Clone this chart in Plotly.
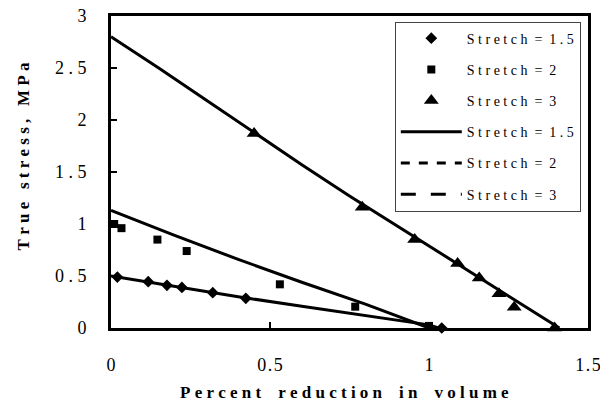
import plotly.graph_objects as go

# ---------------- data ----------------
# measured points (Percent reduction in volume, True stress MPa)
s15_x = [0.02, 0.117, 0.176, 0.223, 0.32, 0.424, 1.04]
s15_y = [0.49, 0.445, 0.41, 0.39, 0.34, 0.285, 0.0]

s2_x = [0.01, 0.033, 0.146, 0.238, 0.531, 0.768, 1.0]
s2_y = [1.0, 0.96, 0.85, 0.74, 0.42, 0.205, 0.02]

s3_x = [0.45, 0.79, 0.955, 1.09, 1.158, 1.22, 1.268, 1.395]
s3_y = [1.87, 1.16, 0.85, 0.62, 0.48, 0.33, 0.20, 0.0]

# model curves
c15_x = [0, 0.2, 0.4, 0.6, 0.8, 1.0, 1.03]
c15_y = [0.50, 0.40, 0.30, 0.21, 0.12, 0.03, 0.0]

c2_x = [0, 0.2, 0.4, 0.6, 0.8, 1.0]
c2_y = [1.13, 0.89, 0.66, 0.44, 0.23, 0.0]

c3_x = [0, 0.15, 0.3, 0.45, 0.6, 0.75, 0.9, 1.05, 1.2, 1.32, 1.41]
c3_y = [2.80, 2.50, 2.19, 1.88, 1.57, 1.27, 0.98, 0.69, 0.40, 0.17, 0.0]

x_ticks = [0, 0.5, 1, 1.5]
x_ticktext = ["0", "0.5", "1", "1.5"]
y_ticks = [0, 0.5, 1, 1.5, 2, 2.5, 3]
y_ticktext = ["0", "0.5", "1", "1.5", "2", "2.5", "3"]

legend_names = ["Stretch = 1.5", "Stretch = 2", "Stretch = 3"]
x_title = "Percent reduction in volume"
y_title = "True stress, MPa"

# ---------------- helpers ----------------
NB = "\u00a0"
HAIR = "\u200a"


def spaced(s, lg=1, wg=3):
    words = s.split(" ")
    return (NB * wg).join((NB * lg).join(list(w)) for w in words)


SERIF = "Liberation Serif, Times New Roman, serif"

fig = go.Figure()

# model curves (drawn solid as in the figure)
for cx, cy in [(c15_x, c15_y), (c2_x, c2_y), (c3_x, c3_y)]:
    fig.add_trace(go.Scatter(x=cx, y=cy, mode="lines", showlegend=False,
                             line=dict(color="black", width=3), hoverinfo="skip"))

# measured points
markers = [("diamond", 9), ("square", 8), ("triangle-up", 13)]
for i, (px, py) in enumerate([(s15_x, s15_y), (s2_x, s2_y), (s3_x, s3_y)]):
    sym, sz = markers[i]
    fig.add_trace(go.Scatter(x=px, y=py, mode="markers",
                             name=spaced(legend_names[i], 1, 2),
                             legendgroup=f"m{i}", cliponaxis=False,
                             marker=dict(symbol=sym, size=sz, color="black")))

# legend entries for model curves
dashes = ["solid", "dash", "longdash"]
for i in range(3):
    fig.add_trace(go.Scatter(x=[None], y=[None], mode="lines",
                             name=spaced(legend_names[i], 1, 2),
                             legendgroup=f"l{i}",
                             line=dict(color="black", width=3, dash=dashes[i])))

tick_font = dict(family=SERIF, size=18, color="black")

fig.update_layout(
    width=600, height=405,
    margin=dict(l=111, r=12, t=16, b=77, autoexpand=False),
    paper_bgcolor="white", plot_bgcolor="white",
    font=dict(family=SERIF, size=17, color="black"),
    showlegend=True,
    legend=dict(x=0.595, y=0.982, xanchor="left", yanchor="top",
                bgcolor="white", bordercolor="#444", borderwidth=1,
                font=dict(family=SERIF, size=14, color="black"),
                traceorder="grouped", tracegroupgap=10, itemwidth=61),
    xaxis=dict(range=[0, 1.5], tickvals=x_ticks,
               ticktext=[HAIR.join(list(t)) for t in x_ticktext], tickfont=tick_font,
               showline=True, linewidth=3, linecolor="black", mirror=True,
               ticks="inside", ticklen=6, tickwidth=2, tickcolor="black",
               showgrid=False, zeroline=False, ticklabelstandoff=18,
               ticklabeloverflow="allow"),
    yaxis=dict(range=[0, 3], tickvals=y_ticks,
               ticktext=[NB.join(list(t)) for t in y_ticktext], tickfont=tick_font,
               showline=True, linewidth=3, linecolor="black", mirror=True,
               ticks="inside", ticklen=6, tickwidth=2, tickcolor="black",
               showgrid=False, zeroline=False, ticklabelstandoff=18,
               ticklabeloverflow="allow"),
    annotations=[
        dict(text="<b>" + spaced(x_title, 1, 4) + "</b>", xref="paper", yref="paper",
             x=0.4885, y=-0.208, xanchor="center", yanchor="middle", showarrow=False,
             font=dict(family=SERIF, size=17, color="black")),
        dict(text="<b>" + spaced(y_title, 1, 3) + "</b>", xref="paper", yref="paper",
             x=-0.1837, y=0.551, xanchor="center", yanchor="middle", showarrow=False,
             textangle=-90, font=dict(family=SERIF, size=17, color="black")),
    ],
)

fig.write_html("out.html")
